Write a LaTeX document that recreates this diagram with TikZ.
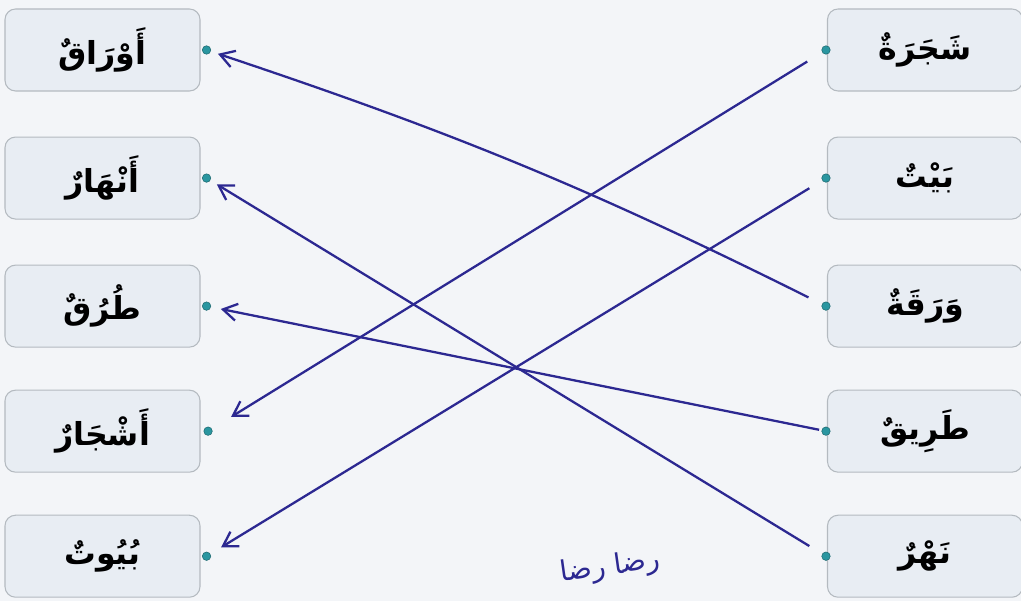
\documentclass[tikz,border=0pt]{standalone}
\usepackage{fontspec}
\usepackage{xcolor}
\usepackage{tikz}
\usetikzlibrary{arrows.meta, positioning}
\TeXXeTstate=1
\newfontfamily\arabicfont[Script=Arabic]{DejaVu Sans}
\definecolor{pageBg}{RGB}{243, 245, 248}
\definecolor{wordBg}{RGB}{232, 237, 243}
\definecolor{wordBorder}{RGB}{180, 186, 192}
\definecolor{dotFill}{RGB}{42, 150, 160}
\definecolor{penBlue}{RGB}{44, 40, 145}

\begin{document}
\begin{tikzpicture}[
    x=1cm, y=1cm,
    wordBox/.style={fill=wordBg, draw=wordBorder, line width=0.6pt, rounded corners=6pt,
        minimum width=3.9cm, minimum height=1.64cm, font=\arabicfont\bfseries\fontsize{18}{21}\selectfont},
    dotMark/.style={circle, fill=dotFill, draw=dotFill!70!black, line width=0.3pt, inner sep=0pt, minimum size=0.17cm},
    penArrow/.style={-{Straight Barb[length=2.8mm, width=3.4mm]}, line width=1.3pt, draw=penBlue}
]

    % Background
    \fill[pageBg] (0,0) rectangle (20.42,-12.02);
    \useasboundingbox (0,0) rectangle (20.42,-12.02);

    % Left column (plurals)
    \node[wordBox] (awraq) at (2.05,-1.0) {\beginR أَوْرَاقٌ\endR};
    \node[wordBox, below=0.9cm of awraq] (anhar) {\beginR أَنْهَارٌ\endR};
    \node[wordBox, below=0.9cm of anhar] (turuq) {\beginR طُرُقٌ\endR};
    \node[wordBox, below=0.84cm of turuq] (ashjar) {\beginR أَشْجَارٌ\endR};
    \node[wordBox, below=0.84cm of ashjar] (buyut) {\beginR بُيُوتٌ\endR};

    % Right column (singulars)
    \node[wordBox] (shajara) at (18.5,-1.0) {\beginR شَجَرَةٌ\endR};
    \node[wordBox, below=0.9cm of shajara] (bayt) {\beginR بَيْتٌ\endR};
    \node[wordBox, below=0.9cm of bayt] (waraqa) {\beginR وَرَقَةٌ\endR};
    \node[wordBox, below=0.84cm of waraqa] (tariq) {\beginR طَرِيقٌ\endR};
    \node[wordBox, below=0.84cm of tariq] (nahr) {\beginR نَهْرٌ\endR};

    % Dots
    \node[dotMark, right=0.03cm of awraq] (dAwraq) {};
    \node[dotMark, right=0.03cm of anhar] (dAnhar) {};
    \node[dotMark, right=0.03cm of turuq] (dTuruq) {};
    \node[dotMark, right=0.06cm of ashjar] (dAshjar) {};
    \node[dotMark, right=0.03cm of buyut] (dBuyut) {};
    \node[dotMark] (dShajara) at ([xshift=-0.02cm]shajara.west) {};
    \node[dotMark] (dBayt) at ([xshift=-0.02cm]bayt.west) {};
    \node[dotMark] (dWaraqa) at ([xshift=-0.02cm]waraqa.west) {};
    \node[dotMark] (dTariq) at ([xshift=-0.02cm]tariq.west) {};
    \node[dotMark] (dNahr) at ([xshift=-0.02cm]nahr.west) {};

    % Matching lines
    \draw[penArrow, shorten <=0.35cm, shorten >=0.45cm] (dShajara) -- (dAshjar);
    \draw[penArrow, shorten <=0.3cm, shorten >=0.25cm] (dBayt) -- (dBuyut);
    \draw[penArrow, shorten <=0.3cm, shorten >=0.15cm] (dWaraqa) to[bend right=4] (dAwraq);
    \draw[penArrow, shorten <=0.05cm, shorten >=0.2cm] (dTariq) -- (dTuruq);
    \draw[penArrow, shorten <=0.3cm, shorten >=0.15cm] (dNahr) -- (dAnhar);

    % Signature
    \node[text=penBlue, rotate=8, font=\arabicfont\fontsize{16}{18}\selectfont] (sign) at (12.2,-11.35) {\beginR رضا رضا\endR};

\end{tikzpicture}
\end{document}
